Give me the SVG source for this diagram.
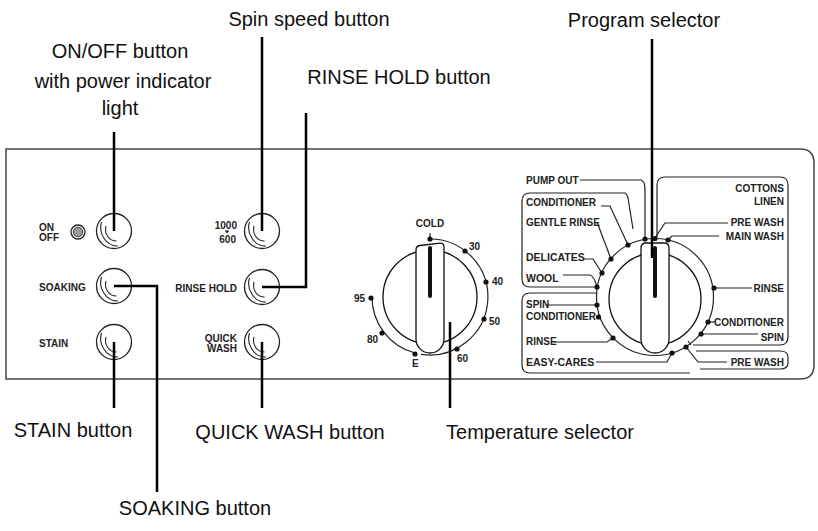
<svg xmlns="http://www.w3.org/2000/svg" width="818" height="531" viewBox="0 0 818 531">
<defs>
<style>
.call{font-family:"Liberation Sans",Arial,sans-serif;font-size:20px;fill:#111}
.lb{font-family:"Liberation Sans",Arial,sans-serif;font-size:10px;font-weight:bold;fill:#222}
.lbb{font-family:"Liberation Sans",Arial,sans-serif;font-size:10.5px;font-weight:bold;fill:#222}
.conn{fill:none;stroke:#000;stroke-width:2.5}
.thin{fill:none;stroke:#222;stroke-width:1.2}
.btn{fill:#fff;stroke:#222;stroke-width:1.3}
.sym{fill:none;stroke:#222;stroke-width:1.1}
.dot{fill:#111}
.knob{fill:#fff;stroke:#111;stroke-width:1.3}
.bar{stroke:#111;stroke-width:4;stroke-linecap:round}
</style>
<g id="btnshape">
<circle class="btn" cx="0" cy="0" r="17.5"/>
<path class="sym" d="M-12.5,-9 C-16,2 -8,15.5 4,15"/>
<path class="sym" d="M-8,-5 C-10,3 -5,10 2.5,10"/>
</g>
</defs>
<rect width="818" height="531" fill="#fff"/>

<g id="panel">
<path d="M6,149 H800 Q814,149 814,163 V365 Q814,379 800,379 H6 Z" fill="none" stroke="#444" stroke-width="1.5"/>
</g>

<g id="onoff">
<text class="lb" x="39" y="231">ON</text>
<text class="lb" x="39" y="241">OFF</text>
<circle cx="78" cy="232" r="7" fill="#fff" stroke="#222" stroke-width="1.3"/>
<circle cx="78" cy="232" r="4.8" fill="#9a9a9a" stroke="#222" stroke-width="0.8"/>
<use href="#btnshape" x="114" y="231"/>
</g>
<g id="soaking">
<text class="lb" x="39" y="291">SOAKING</text>
<use href="#btnshape" x="114" y="286"/>
</g>
<g id="stain">
<text class="lb" x="39" y="347">STAIN</text>
<use href="#btnshape" x="114" y="342"/>
</g>
<g id="spin">
<text class="lb" x="237" y="229" text-anchor="end">1000</text>
<polygon points="224.5,230.5 229.5,230.5 227,233.5" fill="#222"/>
<text class="lb" x="236" y="243" text-anchor="end">600</text>
<use href="#btnshape" x="262" y="231"/>
</g>
<g id="rinsehold">
<text class="lb" x="237" y="292" text-anchor="end">RINSE HOLD</text>
<use href="#btnshape" x="262" y="287"/>
</g>
<g id="quickwash">
<text class="lb" x="237" y="342" text-anchor="end">QUICK</text>
<text class="lb" x="237" y="352" text-anchor="end">WASH</text>
<use href="#btnshape" x="262" y="342"/>
</g>

<g id="temperature">
<path class="thin" d="M430,239 A58,58 0 1 1 420.9,354.3"/>
<path class="thin" d="M415,353 A58,58 0 0 1 372,297"/>
<line class="thin" x1="430" y1="233" x2="430" y2="239"/>
<g class="dot">
<circle cx="430" cy="239" r="2.6"/>
<circle cx="465" cy="251" r="2.6"/>
<circle cx="486" cy="282" r="2.6"/>
<circle cx="484" cy="319" r="2.6"/>
<circle cx="457" cy="349" r="2.6"/>
<circle cx="415" cy="354" r="2.6"/>
<circle cx="382" cy="333" r="2.6"/>
<circle cx="371" cy="298" r="2.6"/>
</g>
<circle class="knob" cx="430" cy="297" r="47"/>
<path class="knob" d="M416,250 Q416,246 420,245.5 L440,243.2 Q444,243 444,247 V339 A14,14 0 0 1 416,339 Z"/>
<line class="bar" x1="430" y1="248" x2="430" y2="296"/>
<text class="lb" x="430" y="227" text-anchor="middle">COLD</text>
<text class="lb" x="469" y="250">30</text>
<text class="lb" x="492" y="285">40</text>
<text class="lb" x="489" y="325">50</text>
<text class="lb" x="457" y="362">60</text>
<text class="lb" x="412" y="367">E</text>
<text class="lb" x="367" y="343">80</text>
<text class="lb" x="354" y="302">95</text>
</g>

<g id="program">
<circle class="thin" cx="655" cy="297" r="58.5"/>
<path class="thin" d="M625,193 H530 Q522,193 522,201 V279 Q522,287 530,287 H596"/>
<path class="thin" d="M625,193 Q627,194 628,198 L633,229"/>
<path class="thin" d="M596,293 H530 Q522,293 522,301 V365 Q522,373 530,373 H690"/>
<path class="thin" d="M657,237 V185 Q657,177 665,177 H780 Q788,177 788,185 V337 Q788,345 780,345 H693"/>
<path class="thin" d="M696,351 H780 Q788,351 788,357 V363 Q788,369 780,369 H700"/>
<path class="thin" d="M580,180 H641 Q645,181 645,190 V238"/>
<path class="thin" d="M601,206 H610 L628,245"/>
<path class="thin" d="M597,222 L611,259"/>
<path class="thin" d="M584,259 H593 L602,273"/>
<path class="thin" d="M563,275 H590 Q594,276 597,287"/>
<path class="thin" d="M546,305 H597"/>
<path class="thin" d="M553,342 H607 L613,338"/>
<path class="thin" d="M596,362 H667 L672,353"/>
<path class="thin" d="M728,223 H665 L655,238"/>
<path class="thin" d="M719,236 H672 L668,240"/>
<path class="thin" d="M752,288 H714"/>
<path class="thin" d="M708,322 H715"/>
<path class="thin" d="M758,334 H701"/>
<path class="thin" d="M727,362 H698 L686,347"/>
<line class="thin" x1="688" y1="341" x2="691" y2="345"/>
<g class="dot">
<circle cx="645" cy="239" r="2.6"/>
<circle cx="655" cy="238.5" r="2.6"/>
<circle cx="668" cy="240" r="2.6"/>
<circle cx="628" cy="245" r="2.6"/>
<circle cx="611" cy="259" r="2.6"/>
<circle cx="602" cy="273" r="2.6"/>
<circle cx="597" cy="287" r="2.6"/>
<circle cx="597" cy="305" r="2.6"/>
<circle cx="598.5" cy="317" r="2.6"/>
<circle cx="613" cy="338" r="2.6"/>
<circle cx="672" cy="353" r="2.6"/>
<circle cx="686" cy="347" r="2.6"/>
<circle cx="701" cy="334" r="2.6"/>
<circle cx="708" cy="322" r="2.6"/>
<circle cx="714" cy="288" r="2.6"/>
</g>
<circle class="knob" cx="655" cy="299" r="46"/>
<path class="knob" d="M641,248 Q641,243 646,243 H664 Q669,243 669,248 V339 A14,14 0 0 1 641,339 Z"/>
<line class="bar" x1="655" y1="248" x2="655" y2="296"/>
<text class="lb" x="526" y="184">PUMP OUT</text>
<text class="lb" x="526" y="206">CONDITIONER</text>
<text class="lb" x="526" y="226">GENTLE RINSE</text>
<text class="lbb" x="526" y="261">DELICATES</text>
<text class="lbb" x="526" y="282">WOOL</text>
<text class="lb" x="526" y="308">SPIN</text>
<text class="lb" x="526" y="320">CONDITIONER</text>
<text class="lb" x="526" y="345">RINSE</text>
<text class="lbb" x="526" y="366">EASY-CARES</text>
<text class="lb" x="784" y="192" text-anchor="end">COTTONS</text>
<text class="lb" x="784" y="205" text-anchor="end">LINEN</text>
<text class="lb" x="784" y="226" text-anchor="end">PRE WASH</text>
<text class="lb" x="784" y="240" text-anchor="end">MAIN WASH</text>
<text class="lb" x="784" y="292" text-anchor="end">RINSE</text>
<text class="lb" x="784" y="326" text-anchor="end">CONDITIONER</text>
<text class="lb" x="784" y="341" text-anchor="end">SPIN</text>
<text class="lb" x="784" y="366" text-anchor="end">PRE WASH</text>
</g>

<g id="connectors">
<path class="conn" d="M114,132 V231"/>
<path class="conn" d="M262,37 V231"/>
<path class="conn" d="M306,113 V287 H262"/>
<path class="conn" d="M652,39 V258"/>
<path class="conn" d="M114,286 H157 V492"/>
<path class="conn" d="M114,342 V408"/>
<path class="conn" d="M262,342 V408"/>
<path class="conn" d="M450,322 V408"/>
</g>

<g id="callouts">
<text class="call" x="120" y="58" text-anchor="middle">ON/OFF button</text>
<text class="call" x="123" y="88" text-anchor="middle">with power indicator</text>
<text class="call" x="120" y="115" text-anchor="middle">light</text>
<text class="call" x="309" y="26" text-anchor="middle">Spin speed button</text>
<text class="call" x="399" y="84" text-anchor="middle">RINSE HOLD button</text>
<text class="call" x="644" y="27" text-anchor="middle">Program selector</text>
<text class="call" x="73" y="437" text-anchor="middle">STAIN button</text>
<text class="call" x="290" y="439" text-anchor="middle">QUICK WASH button</text>
<text class="call" x="540" y="439" text-anchor="middle">Temperature selector</text>
<text class="call" x="195" y="515" text-anchor="middle">SOAKING button</text>
</g>
</svg>
